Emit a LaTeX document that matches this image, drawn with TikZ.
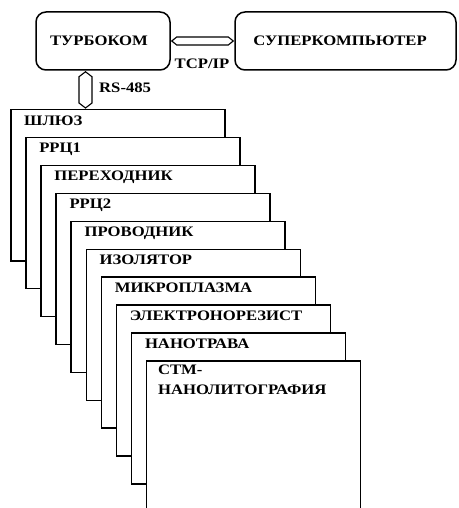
\documentclass[tikz,border=0pt]{standalone}
\usepackage{fontspec}
\setmainfont{Liberation Serif}[FakeStretch=1.15]
\usetikzlibrary{calc}
\begin{document}
\begin{tikzpicture}[x=1pt,y=-1pt,
  lbl/.style={font=\bfseries\fontsize{14.5}{20}\selectfont, inner sep=0pt},
  rbox/.style={draw, line width=1.5pt, rounded corners=10pt, minimum height=58pt},
  card/.style={draw, line width=1.5pt, fill=white, minimum width=214pt, minimum height=151pt, anchor=north west, inner sep=0pt},
  ctext/.style={lbl, anchor=base west, align=left},
  link/.style={draw, line width=1.1pt, fill=white, line join=miter}]
\useasboundingbox (0,0) rectangle (458,508);
\clip (0,0) rectangle (458,508);
% top boxes
\node[rbox, minimum width=134pt] (tb) at (103,41) {};
\node[lbl] (tbt) at (99,41) {ТУРБОКОМ};
\node[rbox, minimum width=221pt] (sc) at (345.5,41) {};
\node[lbl] (sct) at (340,41) {СУПЕРКОМПЬЮТЕР};
% cards
\foreach \i/\t in {0/ШЛЮЗ,1/РРЦ1,2/ПЕРЕХОДНИК,3/РРЦ2,4/ПРОВОДНИК,5/ИЗОЛЯТОР,6/МИКРОПЛАЗМА,7/ЭЛЕКТРОНОРЕЗИСТ,8/НАНОТРАВА}{
  \node[card] (c\i) at ({10+15.1*\i},{109+27.9*\i}) {};
  \node[ctext] (t\i) at ($(c\i.north west)+(14,16)$) {\t};
}
\node[card] (c9) at ({10+15.1*9},{109+27.9*9}) {};
\node[lbl, anchor=north west, align=left] (t9) at ($(c9.north west)+(12,5)$) {СТМ-\\НАНОЛИТОГРАФИЯ};
% horizontal double arrow
\draw[link] ($(tb.east)+(1,0)$) -- ++(5,-4) -- ($(sc.west)+(-6,-4)$) -- ($(sc.west)+(-1,0)$) -- ($(sc.west)+(-6,4)$) -- ($(tb.east)+(6,4)$) -- cycle;
\node[lbl] (tcp) at (202,64) {TCP/IP};
% vertical double arrow
\coordinate (va) at ($(tb.south)+(-17.5,0)$);
\coordinate (vb) at (va |- c0.north);
\draw[link] ($(va)+(0,1)$) -- ++(6.5,5) -- ($(vb)+(6.5,-6)$) -- ($(vb)+(0,-1)$) -- ($(vb)+(-6.5,-6)$) -- ($(va)+(-6.5,6)$) -- cycle;
\node[lbl, anchor=west] (rs) at (99,88) {RS-485};
\end{tikzpicture}
\end{document}
